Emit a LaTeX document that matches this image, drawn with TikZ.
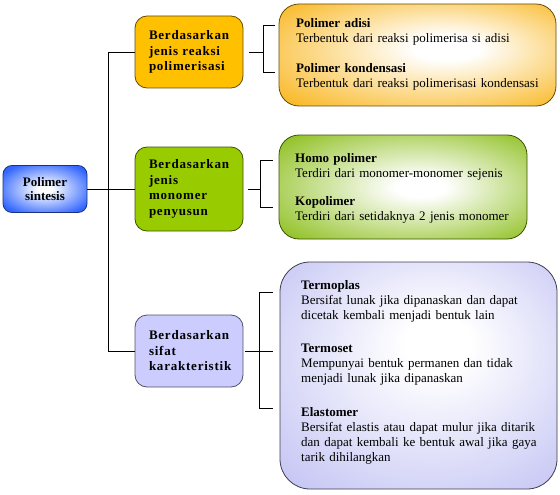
\documentclass[tikz,border=0pt]{standalone}
\usepackage{fontspec}
\setmainfont{Liberation Serif}
\newfontfamily\catfont[LetterSpace=6]{Liberation Serif}

\definecolor{rootblue}{HTML}{3366FF}
\definecolor{catorange}{HTML}{FFC000}
\definecolor{catgreen}{HTML}{99CC00}
\definecolor{catlilac}{HTML}{CCCCFF}
\definecolor{gloworange}{HTML}{F9B721}
\definecolor{glowgreen}{HTML}{8BBE1A}
\definecolor{glowlilac}{HTML}{C2C2F4}

\pgfdeclareradialshading{rootglow}{\pgfpointorigin}{color(0bp)=(white); color(4bp)=(white); color(30bp)=(rootblue); color(50bp)=(rootblue)}
\pgfdeclareradialshading{orangeglow}{\pgfpoint{6bp}{4bp}}{color(0bp)=(white); color(6bp)=(white); color(36bp)=(gloworange); color(50bp)=(gloworange)}
\pgfdeclareradialshading{greenglow}{\pgfpoint{4bp}{0bp}}{color(0bp)=(white); color(5bp)=(white); color(36bp)=(glowgreen); color(50bp)=(glowgreen)}
\pgfdeclareradialshading{lilacglow}{\pgfpoint{4bp}{8bp}}{color(0bp)=(white); color(6bp)=(white); color(38bp)=(glowlilac); color(50bp)=(glowlilac)}

\tikzset{
  rootbox/.style={shade, shading=rootglow, draw=rootblue!50!black, line width=0.8pt,
    rounded corners=9pt, minimum width=84pt, minimum height=47pt, align=center,
    font=\bfseries\fontsize{13}{14}\selectfont},
  catbox/.style={fill=#1, draw=#1!40!black, line width=0.8pt, rounded corners=12pt,
    text width=80pt, inner xsep=14pt, align=left,
    font=\catfont\bfseries\fontsize{13}{15.5}\selectfont},
  infobox/.style={shade, shading=#1, line width=0.8pt},
  item/.style={anchor=base west, inner sep=0pt, text width=255pt, align=left,
    font=\fontsize{13}{15}\selectfont},
  branch/.style={line width=0.8pt, black}
}

\begin{document}
\begin{tikzpicture}[x=1pt,y=1pt]
\useasboundingbox (0,0) rectangle (560,-495);

% root and the three groups
\node [rootbox] (polimer) at (45,-189) {Polimer\\sintesis};
\node [catbox=catorange, minimum height=72pt] (reaksi) at (189,-52) {Berdasarkan\\jenis reaksi\\polimerisasi};
\node [catbox=catgreen, minimum height=84pt] (monomer) at (189,-189) {Berdasarkan\\jenis\\monomer\\penyusun};
\node [catbox=catlilac, minimum height=72pt] (sifat) at (189,-351) {Berdasarkan\\sifat\\karakteristik};

% explanation boxes
\node [infobox=orangeglow, draw=catorange!40!black, rounded corners=20pt,
  minimum width=277pt, minimum height=102pt] (infoReaksi) at (417.5,-55) {};
\node [infobox=greenglow, draw=catgreen!40!black, rounded corners=20pt,
  minimum width=248pt, minimum height=104pt] (infoMonomer) at (403,-187) {};
\node [infobox=lilacglow, draw=catlilac!30!black, rounded corners=30pt,
  minimum width=277pt, minimum height=227pt] (infoSifat) at (418.5,-375.5) {};

\node [item] (adisi) at (296,-28) {\textbf{Polimer adisi}\\Terbentuk dari reaksi polimerisa si adisi};
\node [item] (kondensasi) at (296,-73) {\textbf{Polimer kondensasi}\\Terbentuk dari reaksi polimerisasi kondensasi};
\node [item] (homo) at (295,-162) {\textbf{Homo polimer}\\Terdiri dari monomer-monomer sejenis};
\node [item] (kopolimer) at (295,-205) {\textbf{Kopolimer}\\Terdiri dari setidaknya 2 jenis monomer};
\node [item] (termoplas) at (301,-289) {\textbf{Termoplas}\\Bersifat lunak jika dipanaskan dan dapat\\dicetak kembali menjadi bentuk lain};
\node [item] (termoset) at (301,-352) {\textbf{Termoset}\\Mempunyai bentuk permanen dan tidak\\menjadi lunak jika dipanaskan};
\node [item] (elastomer) at (301,-416) {\textbf{Elastomer}\\Bersifat elastis atau dapat mulur jika ditarik\\dan dapat kembali ke bentuk awal jika gaya\\tarik dihilangkan};

% trunk
\draw [branch] (reaksi.west) -- ++(-26,0) |- (sifat.west);
\draw [branch] (polimer.east) -- (monomer.west);

% brackets
\coordinate (r1) at (275,-25);
\coordinate (r2) at (275,-72);
\draw [branch] ([xshift=6pt]reaksi.east) -- ++(14,0);
\draw [branch] (r1) -- ++(-12,0) |- (r2);

\coordinate (m1) at (273,-160);
\coordinate (m2) at (273,-207);
\draw [branch] ([xshift=5pt]monomer.east) -- ++(12,0);
\draw [branch] (m1) -- ++(-13,0) |- (m2);

\coordinate (s1) at (273,-292);
\coordinate (s2) at (273,-351);
\coordinate (s3) at (273,-408);
\draw [branch] ([xshift=2pt]sifat.east) -- (s2);
\draw [branch] (s1) -- ++(-14,0) |- (s3);
\end{tikzpicture}
\end{document}
